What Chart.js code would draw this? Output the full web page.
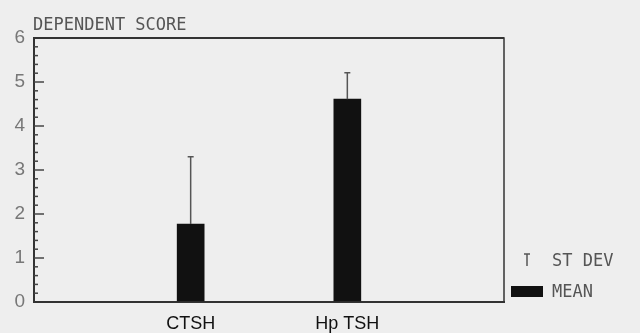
<!DOCTYPE html>
<html>
<head>
<meta charset="utf-8">
<script src="https://cdn.jsdelivr.net/npm/chart.js@4"></script>
<style>
  body { margin: 0; background: #eeeeee; }
  #wrap { width: 640px; height: 333px; }
</style>
</head>
<body>
<div id="wrap"><canvas id="myChart" width="640" height="333"></canvas></div>
<script>
'use strict';

// ***** DATA *****
const categories = ['CTSH', 'Hp TSH'];
const meanValues = [1.77, 4.61];
const sdValues = [1.53, 0.6];
const yMin = 0;
const yMax = 6;
const titleText = 'DEPENDENT SCORE';
const legendLabels = ['ST DEV', 'MEAN'];

// blank slots at both ends so the two bars sit at 1/3 and 2/3 of the box
const labels = [''].concat(categories, ['']);
const barData = [null].concat(meanValues, [null]);

const ctx = document.getElementById('myChart').getContext('2d');

// paper background
const bgPlugin = {
  id: 'bg',
  beforeDraw(chart) {
    const c = chart.ctx;
    c.save();
    c.fillStyle = '#eeeeee';
    c.fillRect(0, 0, chart.width, chart.height);
    c.restore();
  }
};

// box, inside ticks, error bars, title and legend
const decorPlugin = {
  id: 'decor',
  afterDraw(chart) {
    const c = chart.ctx;
    const xs = chart.scales.x;
    const ys = chart.scales.y;
    const area = chart.chartArea;

    c.save();
    // error bars
    c.strokeStyle = '#555';
    c.lineWidth = 1.5;
    for (let i = 0; i < meanValues.length; i++) {
      const x = xs.getPixelForValue(i + 1);
      const yBar = ys.getPixelForValue(meanValues[i]);
      const yTop = ys.getPixelForValue(meanValues[i] + sdValues[i]);
      c.beginPath();
      c.moveTo(x, yBar);
      c.lineTo(x, yTop);
      c.moveTo(x - 3, yTop);
      c.lineTo(x + 3, yTop);
      c.stroke();
    }

    // frame
    c.strokeStyle = '#333';
    c.lineWidth = 1.5;
    c.strokeRect(area.left, area.top, area.right - area.left, area.bottom - area.top);
    c.lineWidth = 2;
    c.beginPath();
    c.moveTo(area.left, area.top);
    c.lineTo(area.right, area.top);
    c.moveTo(area.left, area.top);
    c.lineTo(area.left, area.bottom);
    c.stroke();

    // ticks pointing into the plot
    c.strokeStyle = '#444';
    c.lineWidth = 1.5;
    for (let k = 1; k < 30; k++) {
      const y = ys.getPixelForValue(yMin + k / 5);
      const len = (k % 5 === 0) ? 10 : 4;
      c.beginPath();
      c.moveTo(area.left, y);
      c.lineTo(area.left + len, y);
      c.stroke();
    }

    // title
    c.fillStyle = '#555';
    c.font = '17px "DejaVu Sans Mono"';
    c.textBaseline = 'alphabetic';
    c.textAlign = 'left';
    c.fillText(titleText, 33, 30);

    // legend
    c.strokeStyle = '#555';
    c.lineWidth = 1.5;
    c.beginPath();
    c.moveTo(527, 254);
    c.lineTo(527, 266);
    c.moveTo(524, 254);
    c.lineTo(530, 254);
    c.stroke();
    c.fillText(legendLabels[0], 552, 266);
    c.fillStyle = '#111';
    c.fillRect(511, 286, 32, 11);
    c.fillStyle = '#555';
    c.fillText(legendLabels[1], 552, 297);
    c.restore();
  }
};

const myChart = new Chart(ctx, {
  type: 'bar',
  data: {
    labels: labels,
    datasets: [{
      label: legendLabels[1],
      data: barData,
      backgroundColor: '#111111',
      borderWidth: 0,
      barThickness: 27
    }]
  },
  options: {
    responsive: false,
    animation: false,
    devicePixelRatio: 1,
    layout: { padding: { top: 38, right: 136, left: 0, bottom: 0 } },
    plugins: {
      legend: { display: false },
      tooltip: { enabled: false }
    },
    scales: {
      x: {
        type: 'category',
        offset: false,
        grid: { display: false, drawTicks: false },
        border: { display: true, color: '#333', width: 2 },
        ticks: {
          color: '#111',
          font: { family: 'Liberation Sans', size: 18 },
          padding: 11,
          autoSkip: false,
          maxRotation: 0
        },
        afterFit(scale) { scale.height = 31; }
      },
      y: {
        min: yMin,
        max: yMax,
        grid: { display: false, drawTicks: false },
        border: { display: true, color: '#333', width: 2 },
        ticks: {
          stepSize: 1,
          color: '#777',
          font: { family: 'Liberation Sans', size: 19 },
          padding: 9
        },
        afterFit(scale) { scale.width = 34; }
      }
    }
  },
  plugins: [bgPlugin, decorPlugin]
});
</script>
</body>
</html>
